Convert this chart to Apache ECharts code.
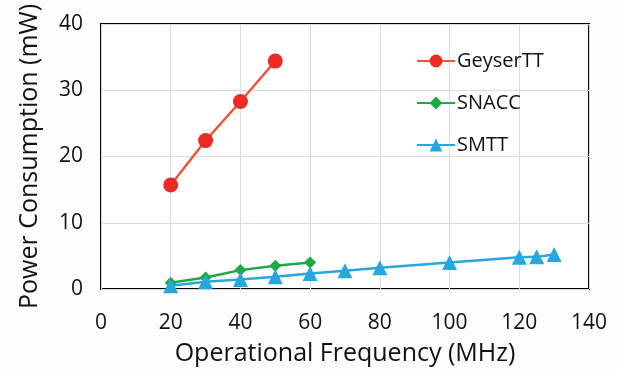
<!DOCTYPE html>
<html><head><meta charset="utf-8">
<script src="https://cdn.jsdelivr.net/npm/echarts@6/dist/echarts.min.js"></script>
<style>html,body{margin:0;padding:0;background:#fdfdfd}#c{width:618px;height:371px}</style>
</head><body><div id="c"></div>
<script>
const geyserX = [20, 30, 40, 50];
const geyserY = [15.7, 22.4, 28.3, 34.4];
const snaccX = [20, 30, 40, 50, 60];
const snaccY = [0.95, 1.75, 2.85, 3.5, 4.0];
const smttX = [20, 30, 40, 50, 60, 70, 80, 100, 120, 125, 130];
const smttY = [0.5, 1.1, 1.45, 1.85, 2.35, 2.75, 3.2, 4.0, 4.8, 4.85, 5.2];
const pairs = (xs, ys) => xs.map((x, i) => [x, ys[i]]);
const font = '"Open Sans", "Noto Sans", sans-serif';
const chart = echarts.init(document.getElementById('c'));
chart.setOption({
  backgroundColor: '#fdfdfd',
  animation: false,
  grid: {left: 101, right: 29, top: 24, bottom: 82, show: true, borderColor: '#000', borderWidth: 2, backgroundColor: '#fff'},
  legend: {
    orient: 'vertical', left: 411, top: 46, itemGap: 22, itemWidth: 38, itemHeight: 16,
    textStyle: {fontFamily: font, fontSize: 20, color: '#111', padding: [0, 0, 0, -3]},
    data: ['GeyserTT', 'SNACC', 'SMTT']
  },
  xAxis: {
    type: 'value', min: 0, max: 140, interval: 20,
    name: 'Operational Frequency (MHz)', nameLocation: 'middle', nameGap: 52,
    nameTextStyle: {fontFamily: font, fontSize: 25, color: '#111'},
    axisLine: {show: false}, axisTick: {show: false},
    axisLabel: {fontFamily: font, fontSize: 21, color: '#111', margin: 24},
    splitLine: {show: true, lineStyle: {color: '#d9dde3', width: 1}}
  },
  yAxis: {
    type: 'value', min: 0, max: 40, interval: 10,
    name: 'Power Consumption (mW)', nameLocation: 'middle', nameGap: 59,
    nameTextStyle: {fontFamily: font, fontSize: 25, color: '#111'},
    axisLine: {show: false}, axisTick: {show: false},
    axisLabel: {fontFamily: font, fontSize: 21, color: '#111', margin: 18},
    splitLine: {show: true, lineStyle: {color: '#d9dde3', width: 1}}
  },
  series: [
    {name: 'GeyserTT', type: 'line', data: pairs(geyserX, geyserY), symbol: 'circle', symbolSize: 15,
     itemStyle: {color: '#ee2a24'}, lineStyle: {color: '#f0553a', width: 2.5}},
    {name: 'SNACC', type: 'line', data: pairs(snaccX, snaccY), symbol: 'diamond', symbolSize: 12,
     itemStyle: {color: '#1fa845'}, lineStyle: {color: '#1fa845', width: 2.5}},
    {name: 'SMTT', type: 'line', data: pairs(smttX, smttY), symbol: 'triangle', symbolSize: 15,
     itemStyle: {color: '#27a7e0'}, lineStyle: {color: '#27a7e0', width: 2.5}}
  ]
});
</script></body></html>
